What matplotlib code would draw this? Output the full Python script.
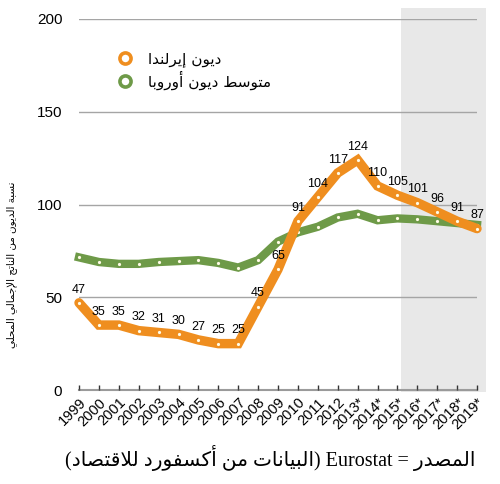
"""Irish public debt vs. European average, share of GDP, 1999-2019 (Arabic labels)."""
import matplotlib
matplotlib.use("Agg")
import matplotlib.pyplot as plt
from matplotlib.lines import Line2D
from matplotlib.patches import Rectangle

years = [1999, 2000, 2001, 2002, 2003, 2004, 2005, 2006, 2007, 2008, 2009,
         2010, 2011, 2012, 2013, 2014, 2015, 2016, 2017, 2018, 2019]
year_labels = ["1999", "2000", "2001", "2002", "2003", "2004", "2005", "2006",
               "2007", "2008", "2009", "2010", "2011", "2012", "2013*", "2014*",
               "2015*", "2016*", "2017*", "2018*", "2019*"]
ireland = [47, 35, 35, 32, 31, 30, 27, 25, 25, 45, 65,
           91, 104, 117, 124, 110, 105, 101, 96, 91, 87]
europe = [71.5, 69, 68, 68, 69, 69.5, 70, 68.5, 66, 70, 80,
          85, 88, 93, 95, 91.5, 92.5, 92, 91, 90, 89]
forecast_span = (2015.2, 2019.45)
yticks = [0, 50, 100, 150, 200]

label_ireland = "ديون إيرلندا"
label_europe = "متوسط ديون أوروبا"
ylabel = "نسبة الديون من الناتج الإجمالي المحلي"
source_ar = "المصدر"
source_note = "(البيانات من أكسفورد للاقتصاد)"

ORANGE = "#EF8E1F"
GREEN = "#6E9A48"

# matplotlib does no Arabic shaping, so map letters to presentation forms
# (first code point in Presentation Forms-B, number of forms) and reverse.
AR_FORMS = {
    'ء': (0xFE80, 1), 'آ': (0xFE81, 2), 'أ': (0xFE83, 2), 'ؤ': (0xFE85, 2),
    'إ': (0xFE87, 2), 'ئ': (0xFE89, 4), 'ا': (0xFE8D, 2), 'ب': (0xFE8F, 4),
    'ة': (0xFE93, 2), 'ت': (0xFE95, 4), 'ث': (0xFE99, 4), 'ج': (0xFE9D, 4),
    'ح': (0xFEA1, 4), 'خ': (0xFEA5, 4), 'د': (0xFEA9, 2), 'ذ': (0xFEAB, 2),
    'ر': (0xFEAD, 2), 'ز': (0xFEAF, 2), 'س': (0xFEB1, 4), 'ش': (0xFEB5, 4),
    'ص': (0xFEB9, 4), 'ض': (0xFEBD, 4), 'ط': (0xFEC1, 4), 'ظ': (0xFEC5, 4),
    'ع': (0xFEC9, 4), 'غ': (0xFECD, 4), 'ف': (0xFED1, 4), 'ق': (0xFED5, 4),
    'ك': (0xFED9, 4), 'ل': (0xFEDD, 4), 'م': (0xFEE1, 4), 'ن': (0xFEE5, 4),
    'ه': (0xFEE9, 4), 'و': (0xFEED, 2), 'ى': (0xFEEF, 2), 'ي': (0xFEF1, 4),
}
LAM_ALEF = {'آ': 0xFEF5, 'أ': 0xFEF7, 'إ': 0xFEF9, 'ا': 0xFEFB}
MIRROR = {'(': ')', ')': '('}


def shape(text):
    out = []
    i = 0
    while i < len(text):
        c = text[i]
        prev_joins = i > 0 and AR_FORMS.get(text[i - 1], (0, 0))[1] == 4
        if c == 'ل' and i + 1 < len(text) and text[i + 1] in LAM_ALEF:
            out.append(chr(LAM_ALEF[text[i + 1]] + (1 if prev_joins else 0)))
            i += 2
            continue
        if c in AR_FORMS:
            base, n = AR_FORMS[c]
            next_joins = n == 4 and i + 1 < len(text) and text[i + 1] in AR_FORMS
            if n == 1:
                idx = 0
            elif n == 2:
                idx = 1 if prev_joins else 0
            else:
                idx = {(False, False): 0, (True, False): 1,
                       (False, True): 2, (True, True): 3}[(prev_joins, next_joins)]
            out.append(chr(base + idx))
        else:
            out.append(MIRROR.get(c, c))
        i += 1
    return "".join(reversed(out))


plt.rcParams["font.family"] = ["Liberation Sans", "DejaVu Sans"]

fig = plt.figure(figsize=(5.0, 4.84), dpi=100)
ax = fig.add_axes([79 / 500, 94 / 484, 398 / 500, 371 / 484])

ax.add_patch(Rectangle((forecast_span[0], -1), forecast_span[1] - forecast_span[0], 207,
                       facecolor="#e8e8e8", edgecolor="none", zorder=0, clip_on=False))

ax.plot(years, europe, color=GREEN, lw=6, solid_joinstyle="miter", zorder=3, clip_on=False)
ax.plot(years, europe, ls="none", marker="o", ms=2.3, mfc="#fffbe6", mec="none",
        zorder=4, clip_on=False)
ax.plot(years, ireland, color=ORANGE, lw=6.8, solid_joinstyle="miter",
        solid_capstyle="round", zorder=5, clip_on=False)
ax.plot(years, ireland, ls="none", marker="o", ms=2.3, mfc="#fffbe6", mec="none",
        zorder=6, clip_on=False)

for x, v in zip(years, ireland):
    ax.annotate(str(v), (x, v), xytext=(0, 9.5), textcoords="offset points",
                ha="center", va="center", fontsize=9, zorder=7)

ax.set_xlim(1999, 2019)
ax.set_ylim(0, 200)
ax.set_yticks(yticks)
ax.set_xticks(years)
ax.set_xticklabels(year_labels)
ax.grid(axis="y", color="#a5a5a5", lw=1.0, zorder=1)
ax.set_axisbelow(False)
for s in ["top", "right", "left"]:
    ax.spines[s].set_visible(False)
ax.spines["bottom"].set_color("#9a9a9a")
ax.spines["bottom"].set_linewidth(1.5)
ax.spines["bottom"].set_zorder(2)
ax.tick_params(axis="y", length=0, pad=12, labelsize=11)
ax.tick_params(axis="x", direction="in", length=3.5, width=1, color="#333333",
               labelsize=10.5, pad=4)
plt.setp(ax.get_xticklabels(), rotation=45, ha="right", rotation_mode="anchor")

handles = [
    Line2D([], [], ls="none", marker="o", ms=8, mfc="white", mec=ORANGE, mew=2.6),
    Line2D([], [], ls="none", marker="o", ms=8, mfc="white", mec=GREEN, mew=2.6),
]
ax.legend(handles, [shape(label_ireland), shape(label_europe)], loc="upper left",
          bbox_to_anchor=(0.062, 0.93), frameon=False,
          handletextpad=0.5, labelspacing=0.25, borderaxespad=0,
          prop={"family": ["DejaVu Sans"], "size": 11})

fig.text(12 / 500, 1 - 265 / 484, shape(ylabel), rotation=90, ha="center", va="center",
         fontsize=7.5, family=["DejaVu Sans"])

bottom = shape(source_note) + " Eurostat = " + shape(source_ar)
fig.text(270 / 500, 1 - 458 / 484, bottom, ha="center", va="center", fontsize=14.5,
         family=["Liberation Serif", "DejaVu Sans"])

fig.savefig("out.png", dpi=100)
